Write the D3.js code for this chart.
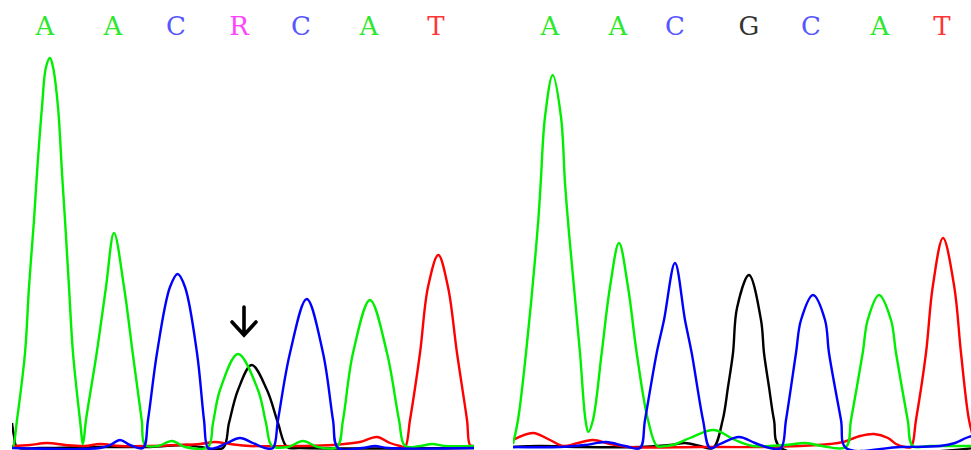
<!DOCTYPE html>
<html>
<head>
<meta charset="utf-8">
<script src="https://cdn.jsdelivr.net/npm/d3@7"></script>
<style>
  html, body { margin: 0; padding: 0; background: #fff; overflow: hidden; }
</style>
</head>
<body>
<svg id="chart" width="971" height="450"></svg>
<script>
// Base calls above each trace panel (positions in scan units)
const leftBases = ["A", "A", "C", "R", "C", "A", "T"];
const leftBasePos = [33, 101, 164, 227, 289, 357, 424];
const rightBases = ["A", "A", "C", "G", "C", "A", "T"];
const rightBasePos = [37, 105, 162, 236, 298, 367, 429];

// Heterozygous call marked with an arrow (left panel, scan units)
const markedScan = 232;
const markedLevel = 113;

// Left panel traces: [scan, intensity]
const leftA = [[0,1],[1,1],[5,28],[13,95],[17,161],[22,228],[25,275],[30,341],[34,381],[38,390],[41,381],[46,341],[50,275],[53,228],[57,161],[61,95],[68,28],[71,4],[74,28],[84.7,95],[94,161],[102,215],[112,161],[120.7,95],[129.7,28],[133,3],[146,2],[160,7],[173,1],[196,1],[201,25],[208,58],[226,94],[246,58],[254,25],[260,2],[276,1],[291,7],[306,1],[325,1],[331,28],[341,95],[358,148],[375,95],[387,28],[393,2],[408,2],[420,4],[433,2],[462,2]];
const leftC = [[0,0],[88,0],[98,3],[108,8],[118,3],[131,0],[136,28],[145,95],[158,161],[165.7,174],[173,161],[185,95],[192,28],[196,0],[203,0],[215,5],[228,10],[241,5],[253,0],[261,0],[266,28],[278,95],[294.7,149],[311,95],[321,28],[326,0],[350,0],[363,2],[376,0],[462,0]];
const leftT = [[0,2],[18,3],[35,5],[53,3],[73,2],[88,4],[108,2],[138,2],[168,3],[188,4],[203,6],[218,4],[238,2],[288,2],[321,3],[348,6],[365,11],[378,5],[388,2],[393,1],[398,28],[408,95],[416,161],[426.3,193],[436,161],[445,95],[455,28],[458,3],[462,2]];
const leftG = [[0,25],[2,12],[5,1],[28,0],[88,1],[138,1],[175,3],[188,1],[211,0],[217,25],[226,58],[239.7,83],[255,58],[266,25],[275,1],[288,0],[462,0]];

// Right panel traces: [scan, intensity]
const rightA = [[0,4],[5,28],[13,95],[25.3,228],[27.7,265],[32,331],[39.7,373],[48,331],[52,265],[56,215],[67,95],[72.5,28],[75.3,16],[80,28],[88.7,95],[97,161],[106,205],[115,161],[123.7,95],[135,28],[144,2],[152,2],[160,3],[177,10],[201,18],[222,8],[240,2],[272,3],[293,5],[309,2],[333,1],[338,28],[349.7,95],[354.7,128],[366,153],[378,128],[383,95],[394.7,28],[399.7,2],[417,2],[462,2]];
const rightC = [[0,1],[47,1],[72,3],[93,6],[112,2],[127,0],[132,28],[143.7,95],[151,128],[162,185],[172,128],[178.7,95],[190,28],[197,0],[207,4],[226,11],[242,5],[257,0],[268,0],[273,28],[283,95],[288,128],[300,153],[312,128],[316,95],[328,28],[333,0],[387,1],[427,2],[442,5],[453,10],[462,13]];
const rightT = [[0,8],[20,15],[37,8],[50,2],[65,5],[80,8],[97,4],[116,1],[187,1],[247,1],[287,2],[317,4],[330,6],[347,12],[361,14],[375,10],[383,4],[392,1],[398,1],[403,28],[413,95],[419.7,161],[430,210],[441.3,161],[448,95],[456,28],[462,5]];
const rightG = [[0,1],[27,2],[67,1],[127,1],[157,3],[172,5],[187,2],[200,0],[209.7,28],[215,61],[220,95],[224,140],[236,173],[248,128],[251,95],[256,61],[261,28],[268,0],[462,0]];

const baseColors = { A: "#2ce82c", C: "#5656ff", G: "#333333", T: "#ff3636", R: "#ff44ff" };
const traceColors = { G: "#000000", T: "#ff0000", A: "#00ee00", C: "#0000ff" };

const panels = [
  { id: "left", bases: leftBases, pos: leftBasePos, range: [12, 474],
    traces: { G: leftG, T: leftT, A: leftA, C: leftC }, mark: true },
  { id: "right", bases: rightBases, pos: rightBasePos, range: [513, 975],
    traces: { G: rightG, T: rightT, A: rightA, C: rightC }, mark: false }
];

const svg = d3.select("#chart");
const y = d3.scaleLinear().domain([0, 400]).range([448, 48]);

panels.forEach(p => {
  const x = d3.scaleLinear().domain([0, 462]).range(p.range);
  const clipId = "clip-" + p.id;
  svg.append("clipPath").attr("id", clipId)
    .append("rect")
    .attr("x", p.range[0]).attr("y", 40)
    .attr("width", p.range[1] - p.range[0]).attr("height", 410);

  const g = svg.append("g").attr("class", "panel " + p.id);

  // base letters
  g.selectAll("text.base")
    .data(p.bases.map((b, i) => ({ b, s: p.pos[i] })))
    .join("text")
    .attr("class", "base")
    .attr("x", d => x(d.s))
    .attr("y", 35)
    .attr("text-anchor", "middle")
    .attr("font-family", "'DejaVu Serif', serif")
    .attr("font-size", 26)
    .attr("fill", d => baseColors[d.b])
    .text(d => d.b);

  const line = d3.line()
    .x(d => x(d[0]))
    .y(d => Math.min(y(d[1]), 449))
    .curve(d3.curveCatmullRom.alpha(0.5));

  const tg = g.append("g").attr("clip-path", `url(#${clipId})`);
  ["G", "T", "A", "C"].forEach(ch => {
    tg.append("path")
      .datum(p.traces[ch])
      .attr("d", line)
      .attr("fill", "none")
      .attr("stroke", traceColors[ch])
      .attr("stroke-width", 2.4)
      .attr("stroke-linejoin", "round");
  });

  if (p.mark) {
    const ax = x(markedScan), ay = y(markedLevel);
    g.append("path")
      .attr("d", `M${ax},${ay - 28}V${ay}M${ax - 12},${ay - 13}L${ax},${ay}L${ax + 12},${ay - 13}`)
      .attr("fill", "none")
      .attr("stroke", "#000")
      .attr("stroke-width", 3.6)
      .attr("stroke-linecap", "round")
      .attr("stroke-linejoin", "miter");
  }
});
</script>
</body>
</html>
